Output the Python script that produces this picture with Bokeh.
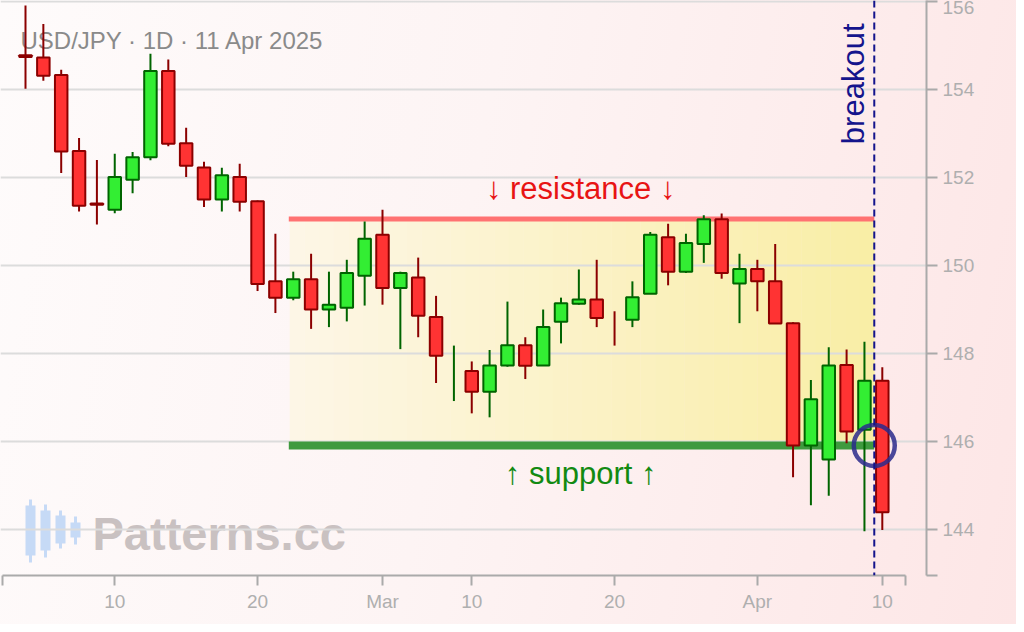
import pandas as pd
from bokeh.plotting import figure
from bokeh.models import Range1d, FixedTicker, Span, Label, CustomJSTickFormatter, ColumnDataSource
from bokeh.embed import file_html
from bokeh.resources import INLINE

# ---------------- data ----------------
dates = [d.strftime("%Y-%m-%d") for d in pd.bdate_range("2025-02-03", "2025-04-10")]

opens = [154.78, 154.73, 154.33, 152.60, 151.41, 151.27, 151.95, 152.46, 154.42, 152.78,
         152.23, 151.50, 152.01, 151.46, 149.64, 149.27, 149.69, 149.00, 149.04, 149.77,
         150.70, 149.49, 149.73, 148.83, 148.00, 147.60, 147.13, 147.73, 148.19, 147.73,
         148.72, 149.13, 149.23, 148.80, 148.77, 149.36, 150.64, 149.86, 150.49, 151.05,
         149.59, 149.92, 149.64, 148.69, 145.91, 145.59, 147.74, 146.27, 147.38]
highs = [155.91, 155.49, 154.45, 152.90, 152.40, 152.54, 152.58, 154.81, 154.68, 153.13,
         152.36, 152.22, 152.31, 151.48, 150.72, 149.86, 150.27, 149.86, 150.13, 151.00,
         151.27, 149.86, 150.18, 149.31, 148.18, 147.82, 148.08, 149.18, 148.37, 149.00,
         149.27, 149.91, 150.13, 148.96, 149.64, 150.76, 150.95, 150.72, 151.14, 151.18,
         150.27, 150.13, 150.49, 148.71, 147.40, 148.14, 148.09, 148.27, 147.69]
lows = [154.02, 154.20, 152.10, 151.23, 150.93, 151.19, 151.64, 152.39, 152.71, 152.01,
        151.33, 151.23, 151.23, 149.42, 148.92, 149.21, 148.56, 148.60, 148.73, 149.09,
        149.11, 148.10, 148.37, 147.33, 146.92, 146.64, 146.55, 147.70, 147.42, 147.72,
        148.23, 149.11, 148.60, 148.18, 148.60, 149.36, 149.55, 149.83, 150.06, 149.70,
        148.69, 148.96, 148.68, 145.19, 144.55, 144.77, 145.96, 143.96, 143.99]
closes = [154.74, 154.31, 152.59, 151.36, 151.38, 152.01, 152.46, 154.42, 152.77, 152.27,
          151.50, 152.05, 151.45, 149.58, 149.27, 149.69, 149.00, 149.11, 149.83, 150.61,
          149.49, 149.83, 148.86, 147.95, 148.00, 147.13, 147.73, 148.19, 147.72, 148.60,
          149.14, 149.23, 148.81, 148.80, 149.28, 150.70, 149.86, 150.51, 151.05, 149.83,
          149.92, 149.64, 148.68, 145.91, 146.96, 147.73, 146.23, 147.38, 144.39]

tick_dates = ["2025-02-10", "2025-02-20", "2025-03-03", "2025-03-10", "2025-03-20", "2025-04-01", "2025-04-10"]
tick_labels = ["10", "20", "Mar", "10", "20", "Apr", "10"]
y_ticks = [144, 146, 148, 150, 152, 154, 156]

support_level = 145.91
resistance_level = 151.06
pattern_start_date = "2025-02-24"
breakout_date = "2025-04-09"

title_text = "USD/JPY · 1D · 11 Apr 2025"

# ---------------- layout ----------------
idx = {d: k for k, d in enumerate(dates)}
n = len(dates)
FW, FH = 926, 575
x0, x1 = -1.4006, 50.476
y0, y1 = 142.955, 156.023
sx = FW / (x1 - x0)
sy = FH / (y1 - y0)

def X(px):  # page px -> data x
    return x0 + px / sx

def Y(py):  # page px -> data y
    return y1 - py / sy

p = figure(frame_width=FW, frame_height=FH,
           x_range=Range1d(x0, x1), y_range=Range1d(y0, y1),
           y_axis_location="right", output_backend="svg", toolbar_location=None,
           min_border_left=0, min_border_top=0, min_border_right=90, min_border_bottom=49)
p.styles = {"background": "linear-gradient(100deg, #fefbfb 0%, #fdf4f4 45%, #fde6e6 100%)"}
p.background_fill_color = None
p.border_fill_color = None
p.outline_line_color = None

# ---- pattern yellow gradient zone ----
ps = idx[pattern_start_date] - 0.2
pe = idx[breakout_date] + 0.55
nsl = 40
c0 = (0xfd, 0xf6, 0xe6)
c1 = (0xf9, 0xee, 0xa6)
lefts, rights, cols = [], [], []
for k in range(nsl):
    t = k / (nsl - 1)
    lefts.append(ps + (pe - ps) * k / nsl)
    rights.append(ps + (pe - ps) * (k + 1) / nsl + 0.02)
    c = tuple(int(round(a + (b - a) * t)) for a, b in zip(c0, c1))
    cols.append("#%02x%02x%02x" % c)
p.quad(left=lefts, right=rights, bottom=support_level, top=resistance_level,
       fill_color=cols, line_color=None, level="image")

# ---- watermark ----
wm = Label(x=X(92), y=Y(533), text="Patterns.cc", text_font="Liberation Sans",
           text_font_style="bold", text_font_size="47px", text_color="#c9c1c1",
           text_align="left", text_baseline="alphabetic", level="image")
p.add_layout(wm)
logo_x = [30, 45, 60, 75]
logo_bt = [505, 510, 515, 522]
logo_bb = [555, 550, 543, 537]
logo_wt = [499, 504, 510, 516]
logo_wb = [562, 557, 548, 544]
p.segment(x0=[X(v) for v in logo_x], x1=[X(v) for v in logo_x],
          y0=[Y(v) for v in logo_wt], y1=[Y(v) for v in logo_wb],
          line_color="#c6daf6", line_width=3, level="image")
p.vbar(x=[X(v) for v in logo_x], width=10 / sx, top=[Y(v) for v in logo_bt],
       bottom=[Y(v) for v in logo_bb], fill_color="#c6daf6", line_color=None, level="image")

# ---- title ----
p.add_layout(Label(x=X(20), y=Y(40), text=title_text, text_font="Liberation Sans",
                   text_font_size="24px", text_color="#8a8a8a", text_align="left",
                   text_baseline="alphabetic", level="underlay"))

# ---- grid ----
p.xgrid.visible = False
p.ygrid.grid_line_color = "#dcdcdc"
p.ygrid.grid_line_width = 2

# ---- support / resistance lines ----
p.line(x=[idx[pattern_start_date] - 0.25, idx[breakout_date] + 0.55], y=[resistance_level] * 2,
       line_color="#ff7272", line_width=5, line_cap="butt")
p.line(x=[idx[pattern_start_date] - 0.25, idx[breakout_date] + 0.55], y=[support_level] * 2,
       line_color="#3f9a3f", line_width=8, line_cap="butt")

# ---- candles ----
up = []
for k in range(n):
    if closes[k] != opens[k]:
        up.append(closes[k] > opens[k])
    else:
        up.append(k > 0 and closes[k] >= closes[k - 1])
dark = ["#006400" if u else "#8b0000" for u in up]
fill = ["#33ee33" if u else "#ff3333" for u in up]
xs = list(range(n))
p.segment(x0=xs, x1=xs, y0=highs, y1=lows, line_color=dark, line_width=2)
bsrc = ColumnDataSource(dict(
    x=[k for k in xs if opens[k] != closes[k]],
    top=[max(opens[k], closes[k]) for k in xs if opens[k] != closes[k]],
    bottom=[min(opens[k], closes[k]) for k in xs if opens[k] != closes[k]],
    fc=[fill[k] for k in xs if opens[k] != closes[k]],
    lc=[dark[k] for k in xs if opens[k] != closes[k]],
))
p.vbar(x="x", top="top", bottom="bottom", width=0.7, fill_color="fc", line_color="lc",
       line_width=2, source=bsrc)

# ---- breakout ----
bx = idx[breakout_date] + 0.55
p.add_layout(Span(location=bx, dimension="height", line_color="#14148c", line_width=2,
                  line_dash="7 4"))
p.scatter(x=[bx], y=[support_level], size=41, fill_color=None, line_color="#2a2a8c",
          line_width=4.5, line_alpha=0.85)
p.add_layout(Label(x=X(853), y=Y(23), text="breakout", angle=1.5708, text_font="Liberation Sans",
                   text_font_size="31px", text_color="#14148c", text_align="right",
                   text_baseline="alphabetic"))

mid = 31.1
p.add_layout(Label(x=mid, y=Y(188), text="↓ resistance ↓", text_font="Liberation Sans",
                   text_font_size="31px", text_color="#e81414", text_align="center",
                   text_baseline="alphabetic"))
p.add_layout(Label(x=mid, y=Y(473), text="↑ support ↑", text_font="Liberation Sans",
                   text_font_size="31px", text_color="#128a12", text_align="center",
                   text_baseline="alphabetic"))

# ---- axes ----
xt = [idx[d] for d in tick_dates] + [49.3]
xlab = {str(idx[d]): l for d, l in zip(tick_dates, tick_labels)}
ax = p.xaxis[0]
ax.ticker = FixedTicker(ticks=[-1.3] + xt)
ax.formatter = CustomJSTickFormatter(args=dict(labels=xlab),
                                     code="const k = String(tick); return (k in labels) ? labels[k] : '';")
ax.bounds = (-1.3, 49.3)
ay = p.yaxis[0]
ay.ticker = FixedTicker(ticks=[y0] + y_ticks)
ay.formatter = CustomJSTickFormatter(code="return (Math.abs(tick - Math.round(tick)) < 1e-6) ? tick.toFixed(0) : '';")
for a in (ax, ay):
    a.axis_line_color = "#aaaaaa"
    a.axis_line_width = 2
    a.major_tick_line_color = "#aaaaaa"
    a.major_tick_line_width = 2
    a.major_tick_in = 0
    a.minor_tick_line_color = None
    a.major_label_text_color = "#afafaf"
    a.major_label_text_font = "Liberation Sans"
    a.major_label_text_font_size = "19px"
ax.major_tick_out = 10
ax.major_label_standoff = 5
ay.major_tick_out = 11
ay.major_label_standoff = 5

open("out.html", "w").write(file_html(p, INLINE))
